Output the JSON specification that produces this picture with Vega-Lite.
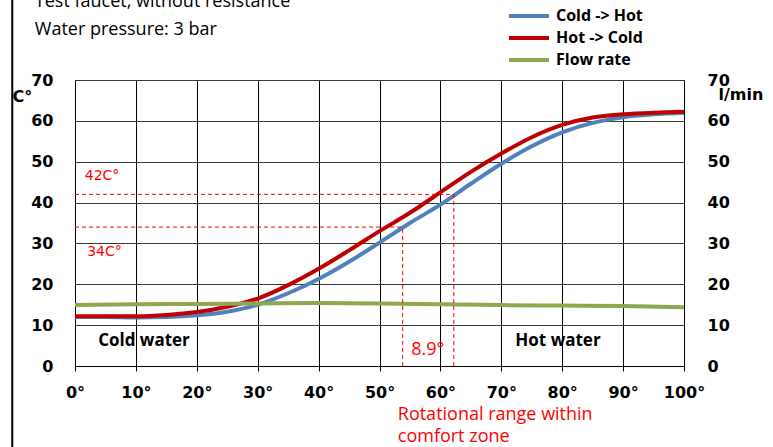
{
  "$schema": "https://vega.github.io/schema/vega-lite/v6.json",
  "width": 609,
  "height": 286,
  "autosize": {"type": "none"},
  "padding": {"left": 75, "top": 80, "right": 89, "bottom": 81},
  "background": "white",
  "config": {
    "view": {"stroke": null},
    "axis": {
      "labelFont": "DejaVu Sans",
      "labelFontWeight": "bold",
      "labelFontSize": 16,
      "labelColor": "black",
      "domainColor": "black",
      "tickColor": "black",
      "titleFont": "DejaVu Sans",
      "titleFontWeight": "bold",
      "titleFontSize": 16,
      "titleColor": "black"
    }
  },
  "datasets": {
    "curves": [
      {"angle": 0, "value": 12.0, "series": "Cold -> Hot"},
      {"angle": 5, "value": 12.0, "series": "Cold -> Hot"},
      {"angle": 10, "value": 11.9, "series": "Cold -> Hot"},
      {"angle": 15, "value": 12.0, "series": "Cold -> Hot"},
      {"angle": 20, "value": 12.4, "series": "Cold -> Hot"},
      {"angle": 25, "value": 13.3, "series": "Cold -> Hot"},
      {"angle": 30, "value": 15.0, "series": "Cold -> Hot"},
      {"angle": 35, "value": 17.8, "series": "Cold -> Hot"},
      {"angle": 40, "value": 21.3, "series": "Cold -> Hot"},
      {"angle": 45, "value": 25.5, "series": "Cold -> Hot"},
      {"angle": 50, "value": 30.2, "series": "Cold -> Hot"},
      {"angle": 55, "value": 35.0, "series": "Cold -> Hot"},
      {"angle": 60, "value": 39.5, "series": "Cold -> Hot"},
      {"angle": 65, "value": 44.6, "series": "Cold -> Hot"},
      {"angle": 70, "value": 49.5, "series": "Cold -> Hot"},
      {"angle": 75, "value": 53.8, "series": "Cold -> Hot"},
      {"angle": 80, "value": 57.2, "series": "Cold -> Hot"},
      {"angle": 85, "value": 59.5, "series": "Cold -> Hot"},
      {"angle": 90, "value": 60.9, "series": "Cold -> Hot"},
      {"angle": 95, "value": 61.6, "series": "Cold -> Hot"},
      {"angle": 100, "value": 62.0, "series": "Cold -> Hot"},
      {"angle": 0, "value": 12.2, "series": "Hot -> Cold"},
      {"angle": 5, "value": 12.2, "series": "Hot -> Cold"},
      {"angle": 10, "value": 12.2, "series": "Hot -> Cold"},
      {"angle": 15, "value": 12.5, "series": "Hot -> Cold"},
      {"angle": 20, "value": 13.2, "series": "Hot -> Cold"},
      {"angle": 25, "value": 14.5, "series": "Hot -> Cold"},
      {"angle": 30, "value": 16.5, "series": "Hot -> Cold"},
      {"angle": 35, "value": 19.8, "series": "Hot -> Cold"},
      {"angle": 40, "value": 23.8, "series": "Hot -> Cold"},
      {"angle": 45, "value": 28.3, "series": "Hot -> Cold"},
      {"angle": 50, "value": 33.0, "series": "Hot -> Cold"},
      {"angle": 55, "value": 37.5, "series": "Hot -> Cold"},
      {"angle": 60, "value": 42.5, "series": "Hot -> Cold"},
      {"angle": 65, "value": 47.5, "series": "Hot -> Cold"},
      {"angle": 70, "value": 52.0, "series": "Hot -> Cold"},
      {"angle": 75, "value": 56.0, "series": "Hot -> Cold"},
      {"angle": 80, "value": 59.0, "series": "Hot -> Cold"},
      {"angle": 85, "value": 60.8, "series": "Hot -> Cold"},
      {"angle": 90, "value": 61.6, "series": "Hot -> Cold"},
      {"angle": 95, "value": 62.0, "series": "Hot -> Cold"},
      {"angle": 100, "value": 62.2, "series": "Hot -> Cold"}
    ],
    "flow": [
      {"angle": 0, "value": 14.9, "series": "Flow rate"},
      {"angle": 10, "value": 15.1, "series": "Flow rate"},
      {"angle": 20, "value": 15.2, "series": "Flow rate"},
      {"angle": 30, "value": 15.3, "series": "Flow rate"},
      {"angle": 40, "value": 15.4, "series": "Flow rate"},
      {"angle": 50, "value": 15.3, "series": "Flow rate"},
      {"angle": 60, "value": 15.1, "series": "Flow rate"},
      {"angle": 70, "value": 14.9, "series": "Flow rate"},
      {"angle": 80, "value": 14.8, "series": "Flow rate"},
      {"angle": 90, "value": 14.7, "series": "Flow rate"},
      {"angle": 100, "value": 14.4, "series": "Flow rate"}
    ],
    "guides": [
      {"x": 0, "x2": 62.2, "y": 42, "y2": 42},
      {"x": 62.2, "x2": 62.2, "y": 0, "y2": 42},
      {"x": 0, "x2": 53.8, "y": 34, "y2": 34},
      {"x": 53.8, "x2": 53.8, "y": 0, "y2": 34}
    ],
    "frame": [
      {"x": -10.3, "y": -30, "y2": 95}
    ],
    "tempNotes": [
      {"x": 1.6, "y": 46.5, "label": "42C°"},
      {"x": 2.0, "y": 28.0, "label": "34C°"}
    ],
    "redNotes": [
      {"x": 55.2, "y": 3.9, "label": "8.9°"},
      {"x": 53.0, "y": -11.9, "label": "Rotational range within"},
      {"x": 53.0, "y": -17.3, "label": "comfort zone"}
    ],
    "zoneNotes": [
      {"x": 3.8, "y": 6.1, "label": "Cold water"},
      {"x": 72.3, "y": 6.1, "label": "Hot water"}
    ],
    "headNotes": [
      {"x": -6.6, "y": 89.1, "label": "Test faucet, without resistance"},
      {"x": -6.6, "y": 82.2, "label": "Water pressure: 3 bar"}
    ]
  },
  "resolve": {"scale": {"y": "independent"}, "axis": {"y": "independent"}},
  "layer": [
    {
      "data": {"name": "curves"},
      "mark": {"type": "line", "strokeWidth": 4, "interpolate": "monotone"},
      "encoding": {
        "x": {
          "field": "angle", "type": "quantitative",
          "scale": {"domain": [0, 100], "nice": false},
          "axis": {
            "title": null,
            "values": [0,5,10,15,20,25,30,35,40,45,50,55,60,65,70,75,80,85,90,95,100],
            "labelExpr": "datum.value % 10 === 0 ? datum.value + '°' : ''",
            "labelFlush": false,
            "labelOverlap": false,
            "grid": true,
            "gridColor": "black",
            "gridOpacity": {"condition": {"test": "datum.value % 10 !== 0", "value": 0}, "value": 1},
            "tickSize": 5,
            "labelPadding": 13,
            "zindex": 0
          }
        },
        "y": {
          "field": "value", "type": "quantitative",
          "scale": {"domain": [0, 70], "nice": false},
          "axis": {
            "values": [0,10,20,30,40,50,60,70],
            "grid": true,
            "gridColor": "#3a3a3a",
            "ticks": false,
            "labelPadding": 22,
            "title": "C°",
            "titleAngle": 0,
            "titleX": -63,
            "titleY": 16,
            "titleAlign": "left",
            "titleBaseline": "middle"
          }
        },
        "color": {
          "field": "series", "type": "nominal",
          "scale": {"domain": ["Cold -> Hot", "Hot -> Cold", "Flow rate"], "range": ["#4F81BD", "#C00000", "#8DA84F"]},
          "legend": {
            "title": null,
            "orient": "none",
            "legendX": 442,
            "legendY": -76,
            "symbolType": "M-2,0H2",
            "symbolStrokeWidth": 4,
            "symbolSize": 400,
            "labelFont": "Open Sans",
            "labelFontWeight": "bold",
            "labelFontSize": 16,
            "labelColor": "black",
            "labelOffset": 15,
            "rowPadding": 2
          }
        }
      }
    },
    {
      "data": {"name": "flow"},
      "mark": {"type": "line", "strokeWidth": 4, "interpolate": "monotone"},
      "encoding": {
        "x": {"field": "angle", "type": "quantitative"},
        "y": {
          "field": "value", "type": "quantitative",
          "scale": {"domain": [0, 70], "nice": false},
          "axis": {
            "orient": "right",
            "values": [0,10,20,30,40,50,60,70],
            "grid": false,
            "ticks": false,
            "labelPadding": 23,
            "title": "l/min",
            "titleAngle": 0,
            "titleX": 34,
            "titleY": 14,
            "titleAlign": "left",
            "titleBaseline": "middle"
          }
        },
        "color": {"field": "series", "type": "nominal"}
      }
    },
    {
      "data": {"name": "guides"},
      "mark": {"type": "rule", "color": "#FF0000", "strokeWidth": 1, "strokeDash": [4, 3]},
      "encoding": {
        "x": {"field": "x", "type": "quantitative"},
        "x2": {"field": "x2"},
        "y": {"field": "y", "type": "quantitative", "scale": {"domain": [0, 70], "nice": false}, "axis": null},
        "y2": {"field": "y2"}
      }
    },
    {
      "data": {"name": "frame"},
      "mark": {"type": "rule", "color": "black", "strokeWidth": 2},
      "encoding": {
        "x": {"field": "x", "type": "quantitative"},
        "y": {"field": "y", "type": "quantitative", "scale": {"domain": [0, 70], "nice": false}, "axis": null},
        "y2": {"field": "y2"}
      }
    },
    {
      "data": {"name": "tempNotes"},
      "mark": {"type": "text", "color": "#FF0000", "font": "DejaVu Sans", "fontSize": 14, "align": "left", "baseline": "middle"},
      "encoding": {
        "x": {"field": "x", "type": "quantitative"},
        "y": {"field": "y", "type": "quantitative", "scale": {"domain": [0, 70], "nice": false}, "axis": null},
        "text": {"field": "label"}
      }
    },
    {
      "data": {"name": "redNotes"},
      "mark": {"type": "text", "color": "#FF0000", "font": "Open Sans", "fontSize": 18, "align": "left", "baseline": "middle"},
      "encoding": {
        "x": {"field": "x", "type": "quantitative"},
        "y": {"field": "y", "type": "quantitative", "scale": {"domain": [0, 70], "nice": false}, "axis": null},
        "text": {"field": "label"}
      }
    },
    {
      "data": {"name": "zoneNotes"},
      "mark": {"type": "text", "color": "black", "font": "Open Sans", "fontWeight": "bold", "fontSize": 17, "align": "left", "baseline": "middle"},
      "encoding": {
        "x": {"field": "x", "type": "quantitative"},
        "y": {"field": "y", "type": "quantitative", "scale": {"domain": [0, 70], "nice": false}, "axis": null},
        "text": {"field": "label"}
      }
    },
    {
      "data": {"name": "headNotes"},
      "mark": {"type": "text", "color": "black", "font": "Open Sans", "fontSize": 18, "align": "left", "baseline": "middle"},
      "encoding": {
        "x": {"field": "x", "type": "quantitative"},
        "y": {"field": "y", "type": "quantitative", "scale": {"domain": [0, 70], "nice": false}, "axis": null},
        "text": {"field": "label"}
      }
    }
  ]
}
